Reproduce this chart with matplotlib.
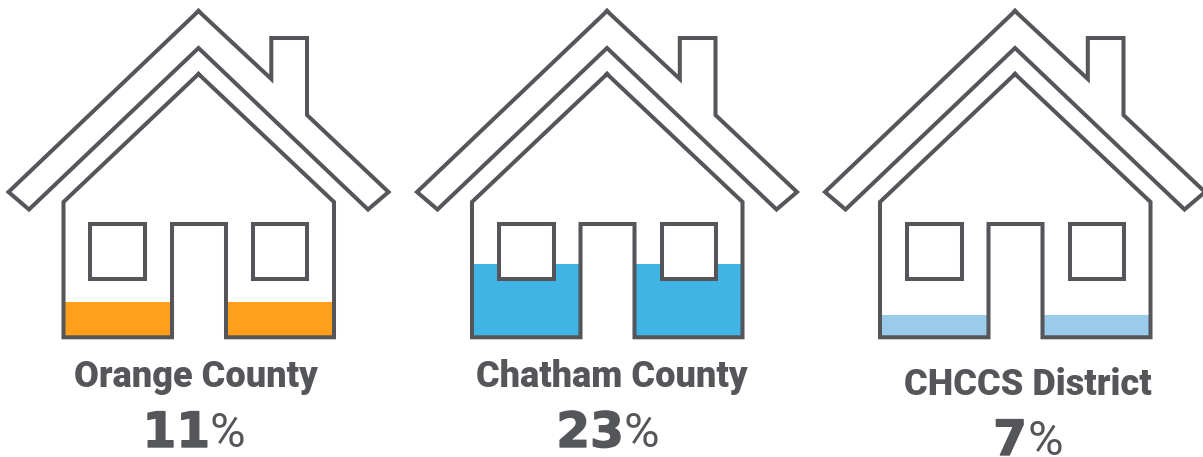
import matplotlib
matplotlib.use('Agg')
import matplotlib.pyplot as plt
import matplotlib.patheffects as pe

# donnees
names = ['Orange County', 'Chatham County', 'CHCCS District']
values = [11, 23, 7]
colors = ['#FF9F1C', '#41B4E6', '#9BCBEB']
offsets = [0, 408.5, 816.5]
name_x = [196, 612, 1028]
name_y = [387, 387, 395]
pct_y = [447, 447, 455]
pct_x = [210, 624, 1027]

grey = '#54565A'
lw = 2.9
px_per_pct = 3.2

# contours de la maison (pixels de la premiere maison)
roof_x = [198.5, 8.5, 29, 198.5, 368, 388.5, 307, 307, 271.3, 271.3, 198.5]
roof_y = [11, 192, 209.5, 48, 209.5, 192, 115, 38, 38, 79, 11]
body_x = [198.5, 63.5, 63.5, 172, 172, 226, 226, 334, 334, 198.5]
body_y = [74, 202, 337.3, 337.3, 224, 224, 337.3, 337.3, 202, 74]
win_x = [[90, 145, 145, 90, 90], [253.3, 307.3, 307.3, 253.3, 253.3]]
win_y = [224, 224, 278.5, 278.5, 224]
fill_left = [63.5, 226]
fill_right = [172, 334]
bottom = 337.3

fig = plt.figure(figsize=(12.03, 4.57), dpi=100)
ax = fig.add_axes([0, 0, 1, 1])
ax.set_xlim(0, 1203)
ax.set_ylim(457, 0)
ax.axis('off')

for i in range(3):
    dx = offsets[i]
    # remplissage selon la valeur
    for a, b in zip(fill_left, fill_right):
        ax.fill_between([a + dx, b + dx], bottom, bottom - values[i] * px_per_pct,
                        color=colors[i], lw=0, zorder=1)
    ax.plot([x + dx for x in roof_x], roof_y, color=grey, lw=lw, zorder=3, solid_joinstyle='miter')
    ax.plot([x + dx for x in body_x], body_y, color=grey, lw=lw, zorder=3, solid_joinstyle='miter')
    for wx in win_x:
        ax.fill([x + dx for x in wx], win_y, facecolor='white', edgecolor=grey, lw=lw,
                zorder=2, joinstyle='miter')

    ax.text(name_x[i], name_y[i], names[i], ha='center', va='baseline',
            color=grey, fontsize=26, fontweight='black', family='Roboto')
    # chiffres plus epais avec un contour
    num = ax.text(pct_x[i], pct_y[i], str(values[i]), ha='right', va='baseline',
                  color=grey, fontsize=35, fontweight='bold', family='DejaVu Sans')
    num.set_path_effects([pe.withStroke(linewidth=1.0, foreground=grey)])
    ax.text(pct_x[i], pct_y[i], '%', ha='left', va='baseline',
            color=grey, fontsize=35, family='Roboto')

fig.savefig('out.png', dpi=100)
